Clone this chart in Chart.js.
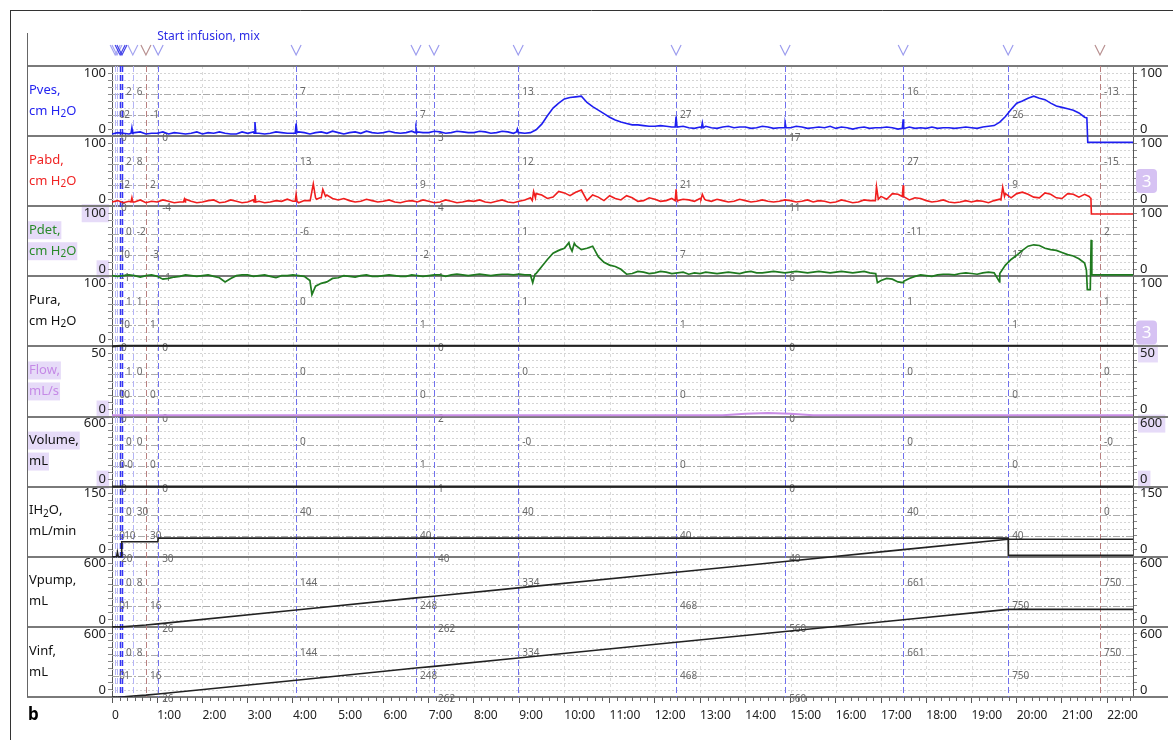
<!DOCTYPE html>
<html>
<head>
<meta charset="utf-8">
<script src="https://cdn.jsdelivr.net/npm/chart.js@4.4.1/dist/chart.umd.min.js"></script>
<style>
  html, body { margin: 0; padding: 0; background: #fff; }
  #wrap { position: relative; width: 1173px; height: 740px; }
</style>
</head>
<body>
<div id="wrap"><canvas id="uro" width="1173" height="740"></canvas></div>
<script>
// ---- channels ----
var channelNames = ["Pves,", "Pabd,", "Pdet,", "Pura,", "Flow,", "Volume,", "IH2O,", "Vpump,", "Vinf,"];
var channelUnits = ["cm H2O", "cm H2O", "cm H2O", "cm H2O", "mL/s", "mL", "mL/min", "mL", "mL"];
var channelMax = [100, 100, 100, 100, 50, 600, 150, 600, 600];
var xTickLabels = ["0", "1:00", "2:00", "3:00", "4:00", "5:00", "6:00", "7:00", "8:00", "9:00", "10:00",
  "11:00", "12:00", "13:00", "14:00", "15:00", "16:00", "17:00", "18:00", "19:00", "20:00", "21:00", "22:00"];
var xTickMinutes = [0, 1, 2, 3, 4, 5, 6, 7, 8, 9, 10, 11, 12, 13, 14, 15, 16, 17, 18, 19, 20, 21, 22];

// ---- sample grids (minutes) ----
var gridMinutes = [0, 0.25, 0.5, 0.75, 1, 1.25, 1.5, 1.75, 2, 2.25, 2.5, 2.75, 3, 3.25, 3.5, 3.75,
  4, 4.25, 4.5, 4.75, 5, 5.25, 5.5, 5.75, 6, 6.25, 6.5, 6.75, 7, 7.25, 7.5, 7.75,
  8, 8.25, 8.5, 8.75, 9, 9.25, 9.5, 9.75, 10, 10.25, 10.5, 10.75, 11, 11.25, 11.5, 11.75,
  12, 12.25, 12.5, 12.75, 13, 13.25, 13.5, 13.75, 14, 14.25, 14.5, 14.75, 15, 15.25, 15.5, 15.75,
  16, 16.25, 16.5, 16.75, 17, 17.25, 17.5, 17.75, 18, 18.25, 18.5, 18.75, 19, 19.25, 19.5, 19.75,
  20, 20.25, 20.5, 20.75, 21, 21.25, 21.5, 21.75, 22, 22.25, 22.5, 22.57];
var midMinutes = [0.125, 0.375, 0.625, 0.875, 1.125, 1.375, 1.625, 1.875, 2.125, 2.375, 2.625, 2.875,
  3.125, 3.375, 3.625, 3.875, 4.125, 4.375, 4.625, 4.875, 5.125, 5.375, 5.625, 5.875,
  6.125, 6.375, 6.625, 6.875, 7.125, 7.375, 7.625, 7.875, 8.125, 8.375, 8.625, 8.875,
  9.125, 9.375, 9.625, 9.875, 10.125, 10.375, 10.625, 10.875, 11.125, 11.375, 11.625, 11.875,
  12.125, 12.375, 12.625, 12.875, 13.125, 13.375, 13.625, 13.875, 14.125, 14.375, 14.625, 14.875,
  15.125, 15.375, 15.625, 15.875, 16.125, 16.375, 16.625, 16.875, 17.125, 17.375, 17.625, 17.875,
  18.125, 18.375, 18.625, 18.875, 19.125, 19.375, 19.625, 19.875, 20.125, 20.375, 20.625, 20.875,
  21.125, 21.375, 21.625, 21.875, 22.125, 22.375];

// Pves, cm H2O
var pvesValues = [3, 4, 5, 3, 4, 3, 4, 4, 3, 4, 4, 3, 4, 4, 4, 5,
  4, 5, 5, 4, 5, 5, 4, 5, 5, 5, 5, 6, 5, 6, 5, 6,
  5, 6, 5, 6, 5, 5, 17, 40, 53, 56, 48, 37, 27, 20, 16, 15,
  14, 14, 13, 12, 13, 12, 13, 12, 13, 12, 13, 12, 12, 13, 12, 12,
  11, 12, 12, 11, 12, 12, 11, 11, 11, 11, 12, 12, 12, 13, 15, 28,
  47, 54, 54, 47, 41, 37, 27, -9, -9, -9, -9, -9];
var pvesMid = [5, 3, 6, 4, 6, 5, 3, 6, 5, 6, 3, 6, 6, 3, 6, 4,
  6, 3, 6, 7, 3, 6, 7, 4, 7, 4, 7, 5, 7, 4, 7, 5,
  7, 4, 7, 4, 4, 9, 29, 47, 55, 57, 42, 32, 23, 18, 16, 14,
  15, 13, 14, 11, 14, 11, 14, 13, 11, 14, 11, 13, 14, 11, 13, 14,
  13, 10, 13, 12, 13, 10, 13, 12, 13, 12, 11, 13, 11, 14, 20, 38,
  50, 57, 52, 43, 39, 33, -9, -9, -9, -9];
var pvesExtraT = [0.42, 0.44, 0.46, 3.14, 3.16, 3.18, 4.05, 4.07, 4.09, 6.70, 6.72, 6.74, 8.94, 8.96, 8.98,
  12.45, 12.47, 12.49, 13.03, 13.05, 13.07, 14.86, 14.88, 14.90, 17.47, 17.49, 17.51, 21.55, 21.57];
var pvesExtraV = [4, 12, 4, 4, 20, 4, 4, 18, 5, 5, 11, 5, 6, 10, 5,
  13, 28, 13, 12, 19, 12, 12, 19, 12, 11, 24, 11, 26, -9];

// Pabd, cm H2O
var pabdValues = [6, 5, 6, 5, 6, 7, 6, 7, 6, 9, 6, 7, 6, 7, 6, 7,
  7, 8, 12, 16, 9, 8, 7, 8, 7, 6, 7, 6, 7, 6, 7, 6,
  7, 6, 7, 6, 7, 12, 16, 13, 19, 20, 8, 13, 15, 9, 12, 8,
  10, 8, 8, 9, 11, 7, 8, 7, 8, 7, 7, 7, 8, 7, 6, 7,
  6, 7, 6, 8, 14, 18, 14, 12, 8, 7, 6, 6, 6, 7, 8, 18,
  18, 17, 12, 17, 11, 17, 17, -11, -11, -11, -11, -11];
var pabdMid = [8, 7, 9, 7, 9, 5, 10, 5, 8, 5, 9, 5, 9, 5, 8, 10,
  5, 8, 12, 11, 11, 6, 10, 6, 9, 5, 8, 9, 5, 9, 5, 8,
  9, 5, 9, 5, 9, 18, 11, 21, 15, 23, 16, 8, 11, 15, 7, 12,
  7, 11, 10, 7, 9, 10, 6, 10, 6, 9, 6, 9, 6, 9, 8, 5,
  9, 5, 9, 8, 10, 17, 9, 11, 6, 9, 5, 8, 8, 5, 10, 12,
  20, 13, 19, 12, 18, 13, 12, -11, -11, -11];
var pabdExtraT = [0.42, 0.44, 0.46, 1.58, 1.6, 1.62, 3.14, 3.16, 3.18, 4.05, 4.07, 4.09,
  4.38, 4.45, 4.52, 4.6, 4.66, 4.72, 9.29, 9.32, 9.36, 12.45, 12.47, 12.49, 13.02, 13.05, 13.1,
  16.86, 16.9, 16.94, 17.47, 17.49, 17.52, 19.65, 19.69, 19.73, 21.6, 21.64, 21.65];
var pabdExtraV = [6, 12, 6, 6, 10, 6, 6, 16, 6, 7, 17, 7,
  8, 32, 10, 12, 24, 14, 8, 21, 12, 8, 24, 9, 10, 17, 10,
  8, 28, 10, 14, 30, 13, 9, 27, 14, 14, 11, -11];

// Pdet, cm H2O
var pdetValues = [1, 1, 1, 1, 0, -3, 0, 1, 1, 0, -8, 1, 2, 1, 0, 1,
  2, 0, -14, -8, -2, 0, 1, 0, 1, 1, 0, 1, 1, 2, 2, 2,
  2, 2, 2, 3, 3, 2, 14, 33, 40, 44, 40, 28, 16, 10, 4, 6,
  5, 6, 5, 3, 4, 5, 5, 5, 6, 5, 6, 6, 6, 6, 6, 6,
  6, 6, 6, 5, -6, -4, -7, 0, 1, 2, 3, 4, 4, 5, 5, 16,
  30, 43, 44, 38, 34, 29, 19, 2, 2, 2, 2, 2];
var pdetMid = [0, 2, -1, 2, -4, -1, 2, 0, 2, -2, -3, 2, 0, 2, -2, 1,
  1, -6, -10, -3, 1, -1, 2, 0, 2, 0, 2, 0, 2, 0, 3, 1,
  3, 1, 3, 2, 2, 4, 24, 37, 42, 38, 43, 20, 14, 3, 7, 4,
  7, 4, 6, 5, 6, 4, 6, 4, 7, 5, 7, 5, 7, 5, 7, 5,
  7, 5, 7, 4, -3, -8, -3, 2, 0, 3, 2, 5, 3, 6, 4, 24,
  37, 45, 40, 37, 31, 25, -19, 2, 2, 2];
var pdetExtraT = [4.42, 9.3, 9.35, 10.1, 10.17, 10.22, 16.88, 16.92, 17.49, 19.62,
  21.54, 21.56, 21.63, 21.645, 21.66];
var pdetExtraV = [-26, -9, 3, 48, 36, 47, 5, -9, -9, -8,
  9, -19, -19, 52, 2];

// Pura, Flow, Volume
var puraTimes = [0, 0.2, 0.75, 1.02, 4, 9, 12, 16, 19.8, 21.6, 22.57];
var puraValues = [0, 1, 1, 1, 1, 1, 1, 1, 1, 1, 1];
var flowTimes = [0, 4, 9, 13.5, 14, 14.5, 15, 15.5, 18, 22.57];
var flowValues = [1, 1, 1, 1, 2, 2.5, 2, 1, 1, 1];
var volumeTimes = [0, 8, 15, 22.57];
var volumeValues = [0, 0, 0, 0];

// IH2O, mL/min
var ih2oTimes = [0, 0.1, 0.12, 0.14, 0.21, 0.215, 1.015, 1.02, 19.81, 19.815, 22.57];
var ih2oValues = [0, 0, 10, 0, 0, 32, 32, 40, 40, 3, 3];

// Vpump / Vinf, mL
var vpumpTimes = [0, 0.21, 0.46, 0.75, 1.02, 4.07, 6.72, 7.12, 8.98, 12.47, 14.88, 17.49, 19.81, 22.57];
var vpumpValues = [0, 0, 8, 16, 26, 144, 248, 262, 334, 468, 560, 661, 750, 750];
var vinfTimes = [0, 0.21, 0.46, 0.75, 1.02, 4.07, 6.72, 7.12, 8.98, 12.47, 14.88, 17.49, 19.81, 22.57];
var vinfValues = [0, 0, 8, 16, 26, 144, 248, 262, 334, 468, 560, 661, 750, 750];

// ---- event markers ----
var markerTimes = [0.07, 0.11, 0.18, 0.22, 0.46, 0.75, 1.02, 4.07, 6.72, 7.12, 8.98, 12.47, 14.88, 17.49, 19.81, 21.84];
var markerRows = [2, 3, 2, 1, 1, 2, 3, 1, 2, 3, 1, 2, 3, 1, 2, 1];
var markerKinds = ["light", "light", "dark", "dark", "light", "brown", "blue", "blue", "blue", "blue", "blue", "blue", "blue", "blue", "blue", "brown"];
var markerTitle = "Start infusion, mix";
var markerTitleIndex = 6;

var markerLabels = [
  ["0", "0", "2", "2", "6", "-1", "0", "7", "7", "3", "13", "27", "17", "16", "26", "-13"],
  ["1", "0", "2", "2", "8", "2", "-4", "13", "9", "4", "12", "21", "11", "27", "9", "-15"],
  ["1", "-1", "0", "0", "-2", "-3", "-1", "-6", "-2", "1", "1", "7", "6", "-11", "17", "2"],
  ["1", "0", "0", "1", "1", "1", "0", "0", "1", "0", "1", "1", "0", "1", "1", "1"],
  ["0", "0", "0", "1", "0", "0", "0", "0", "0", "2", "0", "0", "0", "0", "0", "0"],
  ["0", "0", "-0", "0", "0", "0", "0", "0", "1", "1", "-0", "0", "0", "0", "0", "-0"],
  ["0", "20", "10", "0", "30", "30", "30", "40", "40", "40", "40", "40", "40", "40", "40", "0"],
  ["0", "", "1", "0", "8", "16", "26", "144", "248", "262", "334", "468", "560", "661", "750", "750"],
  ["0", "", "1", "0", "8", "16", "26", "144", "248", "262", "334", "468", "560", "661", "750", "750"],
];

// ---- styles ----
var FONT = '"Noto Sans", "Open Sans", sans-serif';
var traceColors = ["#1e1ef0", "#f01e1e", "#1f7a1f", "#222222", "#c98de6", "#222222", "#222222", "#222222", "#222222"];
var traceWidths = [1.6, 1.6, 1.7, 2.2, 2, 2.2, 1.6, 1.6, 1.6];
var nameColors = ["#2424f0", "#f02424", "#2a8a2a", "#111111", "#c58ae6", "#111111", "#111111", "#111111", "#111111"];
var nameHilite = [0, 0, 1, 0, 1, 1, 0, 0, 0];
var leftTopHilite = [0, 0, 1, 0, 0, 0, 0, 0, 0];
var leftZeroHilite = [0, 0, 1, 0, 1, 1, 0, 0, 0];
var rightTopHilite = [0, 0, 0, 0, 1, 1, 0, 0, 0];
var rightZeroHilite = [0, 0, 0, 0, 0, 1, 0, 0, 0];
var badgeSpots = [1.64, 3.8];
var HILITE = "#e6dbf8";
var rowFrac = { 1: 0.37, 2: 0.70, 3: 1.03 };
var markerLine = { light: "#b4b4f6", dark: "#3434f4", blue: "#7070ee", brown: "#b88080" };
var markerVee = { light: "#a4a4f0", dark: "#4040e8", blue: "#9c9cee", brown: "#b89090" };

function buildSeries(times, values, extraT, extraV) {
  var pts = times.map(function (t, i) { return { x: t, y: values[i] }; });
  (extraT || []).forEach(function (t, i) { pts.push({ x: t, y: extraV[i] }); });
  pts.sort(function (a, b) { return a.x - b.x; });
  return pts;
}

// text with subscript 2 in H2O
function richText(ctx, text, x, y, size, draw) {
  var parts = text.split("H2O");
  var cx = x;
  var put = function (s, dy, sz) {
    ctx.font = sz + "px " + FONT;
    if (draw) ctx.fillText(s, cx, y + dy);
    cx += ctx.measureText(s).width;
  };
  for (var p = 0; p < parts.length; p++) {
    put(parts[p], 0, size);
    if (p < parts.length - 1) {
      put("H", 0, size);
      put("2", 3, size - 3);
      put("O", 0, size);
    }
  }
  return cx - x;
}

function line(ctx, x1, y1, x2, y2) {
  ctx.beginPath();
  ctx.moveTo(x1, y1);
  ctx.lineTo(x2, y2);
  ctx.stroke();
}

var allMinutes = gridMinutes.concat(midMinutes);
var series = [
  buildSeries(allMinutes, pvesValues.concat(pvesMid), pvesExtraT, pvesExtraV),
  buildSeries(allMinutes, pabdValues.concat(pabdMid), pabdExtraT, pabdExtraV),
  buildSeries(allMinutes, pdetValues.concat(pdetMid), pdetExtraT, pdetExtraV),
  buildSeries(puraTimes, puraValues),
  buildSeries(flowTimes, flowValues),
  buildSeries(volumeTimes, volumeValues),
  buildSeries(ih2oTimes, ih2oValues),
  buildSeries(vpumpTimes, vpumpValues),
  buildSeries(vinfTimes, vinfValues),
];

// band ticks: every tenth of a band, 0 at top
var bandTicks = [];
for (var b = 0; b < 9; b++) {
  for (var k = 0; k < 10; k++) bandTicks.push(Math.round((b + k / 10) * 10) / 10);
}
bandTicks.push(9);

function bandLabel(v) {
  var i = Math.floor(v + 1e-6);
  var f = Math.round((v - i) * 10);
  if (i > 8) return "";
  if (f === 1) return String(channelMax[i]);
  if (f === 9) return "0";
  return "";
}

var scales = {
  x: {
    type: "linear", min: 0, max: 22.57,
    afterBuildTicks: function (s) { s.ticks = xTickMinutes.map(function (v) { return { value: v }; }); },
    ticks: {
      autoSkip: false, maxRotation: 0, minRotation: 0, align: "start", padding: 5,
      color: "#222", font: { size: 12 },
      callback: function (v, idx) { return xTickLabels[idx]; },
    },
    grid: { display: true, drawOnChartArea: false, drawTicks: true, tickLength: 6, tickColor: "#555", tickWidth: 1 },
    border: { display: false },
    afterFit: function (s) { s.height = 43; },
  },
  yl: {
    type: "linear", position: "left", reverse: true, min: 0, max: 9,
    afterBuildTicks: function (s) { s.ticks = bandTicks.map(function (v) { return { value: v }; }); },
    ticks: { autoSkip: false, padding: 2, color: "#222", font: { size: 13 }, callback: bandLabel },
    grid: { display: true, drawOnChartArea: false, drawTicks: true, tickLength: 4, tickColor: "#888" },
    border: { display: true, color: "#555", width: 1 },
    afterFit: function (s) { s.width = 112; },
  },
  yr: {
    type: "linear", position: "right", reverse: true, min: 0, max: 9,
    afterBuildTicks: function (s) { s.ticks = bandTicks.map(function (v) { return { value: v }; }); },
    ticks: { autoSkip: false, padding: 3, color: "#222", font: { size: 13 }, callback: bandLabel },
    grid: { display: true, drawOnChartArea: false, drawTicks: true, tickLength: 4, tickColor: "#888" },
    border: { display: true, color: "#555", width: 1 },
    afterFit: function (s) { s.width = 40; },
  },
};

// one hidden value axis per channel, spanning the full height, so channel i sits in band i
var datasets = [];
channelNames.forEach(function (name, i) {
  scales["p" + i] = { type: "linear", display: false, min: (i - 8) * channelMax[i], max: (i + 1) * channelMax[i] };
  datasets.push({
    label: name,
    data: series[i],
    xAxisID: "x",
    yAxisID: "p" + i,
    borderColor: traceColors[i],
    borderWidth: traceWidths[i],
    pointRadius: 0,
    tension: 0,
    fill: false,
  });
});

var tracePlugin = {
  id: "traceLayout",
  beforeDraw: function (chart) {
    var ctx = chart.ctx, yl = chart.scales.yl;
    ctx.save();
    ctx.fillStyle = HILITE;
    for (var i = 0; i < 9; i++) {
      var top = yl.getPixelForValue(i);
      if (nameHilite[i]) {
        var w1 = richText(ctx, channelNames[i], 0, 0, 13, false);
        var w2 = richText(ctx, channelUnits[i], 0, 0, 13, false);
        ctx.fillRect(27, top + 15, w1 + 3, 18);
        ctx.fillRect(27, top + 36, w2 + 3, 18);
      }
      ctx.font = "13px " + FONT;
      var yTop = yl.getPixelForValue(i + 0.1), yBot = yl.getPixelForValue(i + 0.9);
      var wTop = ctx.measureText(String(channelMax[i])).width, wZero = ctx.measureText("0").width;
      if (leftTopHilite[i]) ctx.fillRect(106 - wTop - 2, yTop - 9, wTop + 5, 18);
      if (leftZeroHilite[i]) ctx.fillRect(106 - wZero - 2, yBot - 9, wZero + 5, 18);
      if (rightTopHilite[i]) ctx.fillRect(1138, yTop - 9, wTop + 5, 18);
      if (rightZeroHilite[i]) ctx.fillRect(1138, yBot - 9, wZero + 5, 18);
    }
    ctx.restore();
  },
  beforeDatasetsDraw: function (chart) {
    var ctx = chart.ctx, area = chart.chartArea;
    var x = chart.scales.x, yl = chart.scales.yl;
    ctx.save();
    ctx.lineWidth = 1;
    // minute grid
    ctx.strokeStyle = "#dadada";
    ctx.setLineDash([3, 3]);
    for (var m = 1; m <= 22; m++) {
      var px = Math.round(x.getPixelForValue(m)) + 0.5;
      line(ctx, px, area.top, px, area.bottom);
    }
    // band grid
    for (var i = 0; i < 9; i++) {
      for (var k = 1; k < 10; k++) {
        var py = Math.round(yl.getPixelForValue(i + k / 10)) + 0.5;
        if (k === 4 || k === 7) { ctx.strokeStyle = "#ababab"; ctx.setLineDash([7, 2, 2, 2]); }
        else { ctx.strokeStyle = "#d4d4d4"; ctx.setLineDash([2, 2]); }
        line(ctx, area.left, py, area.right, py);
      }
    }
    // band separators
    ctx.setLineDash([]);
    ctx.strokeStyle = "#7a7a7a";
    ctx.lineWidth = 2;
    for (var s = 0; s <= 9; s++) {
      var sy = Math.round(yl.getPixelForValue(s));
      line(ctx, 27, sy, 1168, sy);
    }
    // 10 s minor ticks
    ctx.lineWidth = 1;
    ctx.strokeStyle = "#666";
    for (var t = 1; t < 136; t++) {
      if (t % 6 === 0) continue;
      var tx = Math.round(x.getPixelForValue(t / 6)) + 0.5;
      line(ctx, tx, area.bottom, tx, area.bottom + 4);
    }
    // event markers
    ctx.setLineDash([6, 3]);
    markerTimes.forEach(function (mt, j) {
      var mx = Math.round(x.getPixelForValue(mt)) + 0.5;
      ctx.strokeStyle = markerLine[markerKinds[j]];
      ctx.lineWidth = markerKinds[j] === "dark" ? 1.5 : 1;
      line(ctx, mx, area.top, mx, area.bottom);
    });
    // values at markers
    ctx.setLineDash([]);
    ctx.font = "10px " + FONT;
    ctx.fillStyle = "#6a6a6a";
    ctx.textAlign = "left";
    ctx.textBaseline = "middle";
    markerLabels.forEach(function (labels, i) {
      labels.forEach(function (txt, j) {
        if (!txt) return;
        var lx = x.getPixelForValue(markerTimes[j]) + 4;
        var ly = yl.getPixelForValue(i + rowFrac[markerRows[j]]);
        ctx.fillText(txt, lx, ly);
      });
    });
    ctx.restore();
  },
  afterDraw: function (chart) {
    var ctx = chart.ctx, x = chart.scales.x, yl = chart.scales.yl;
    ctx.save();
    // channel names
    ctx.textAlign = "left";
    ctx.textBaseline = "middle";
    for (var i = 0; i < 9; i++) {
      var top = yl.getPixelForValue(i);
      ctx.fillStyle = nameColors[i];
      richText(ctx, channelNames[i], 29, top + 24, 13, true);
      richText(ctx, channelUnits[i], 29, top + 45, 13, true);
    }
    // marker vees
    ctx.lineWidth = 1.2;
    markerTimes.forEach(function (mt, j) {
      var vx = x.getPixelForValue(mt);
      ctx.strokeStyle = markerVee[markerKinds[j]];
      ctx.beginPath();
      ctx.moveTo(vx - 5, 45);
      ctx.lineTo(vx, 55);
      ctx.lineTo(vx + 5, 45);
      ctx.stroke();
    });
    ctx.fillStyle = "#2b2be6";
    ctx.font = "12px " + FONT;
    ctx.fillText(markerTitle, x.getPixelForValue(markerTimes[markerTitleIndex]) - 1, 37);
    // badges
    badgeSpots.forEach(function (bv) {
      var by = yl.getPixelForValue(bv);
      ctx.fillStyle = "#d6c2f3";
      ctx.beginPath();
      ctx.roundRect(1136, by - 12, 21, 24, 4);
      ctx.fill();
      ctx.fillStyle = "#fff";
      ctx.font = "17px " + FONT;
      ctx.textAlign = "center";
      ctx.fillText("3", 1146.5, by + 1);
    });
    // figure letter
    ctx.textAlign = "left";
    ctx.fillStyle = "#000";
    ctx.font = "bold 17px " + FONT;
    ctx.fillText("b", 28, 715);
    // frames
    ctx.strokeStyle = "#333";
    ctx.lineWidth = 1;
    line(ctx, 10.5, 10, 10.5, 740);
    line(ctx, 10, 10.5, 1173, 10.5);
    ctx.strokeStyle = "#666";
    line(ctx, 27.5, 33, 27.5, 697);
    ctx.restore();
  },
};

Chart.defaults.font.family = FONT;
Chart.defaults.font.size = 12;
Chart.defaults.color = "#222";

new Chart(document.getElementById("uro"), {
  type: "line",
  data: { datasets: datasets },
  options: {
    responsive: false,
    animation: false,
    events: [],
    layout: { padding: { top: 66, left: 0, right: 0, bottom: 0 } },
    plugins: { legend: { display: false }, tooltip: { enabled: false } },
    scales: scales,
  },
  plugins: [tracePlugin],
});
</script>
</body>
</html>
